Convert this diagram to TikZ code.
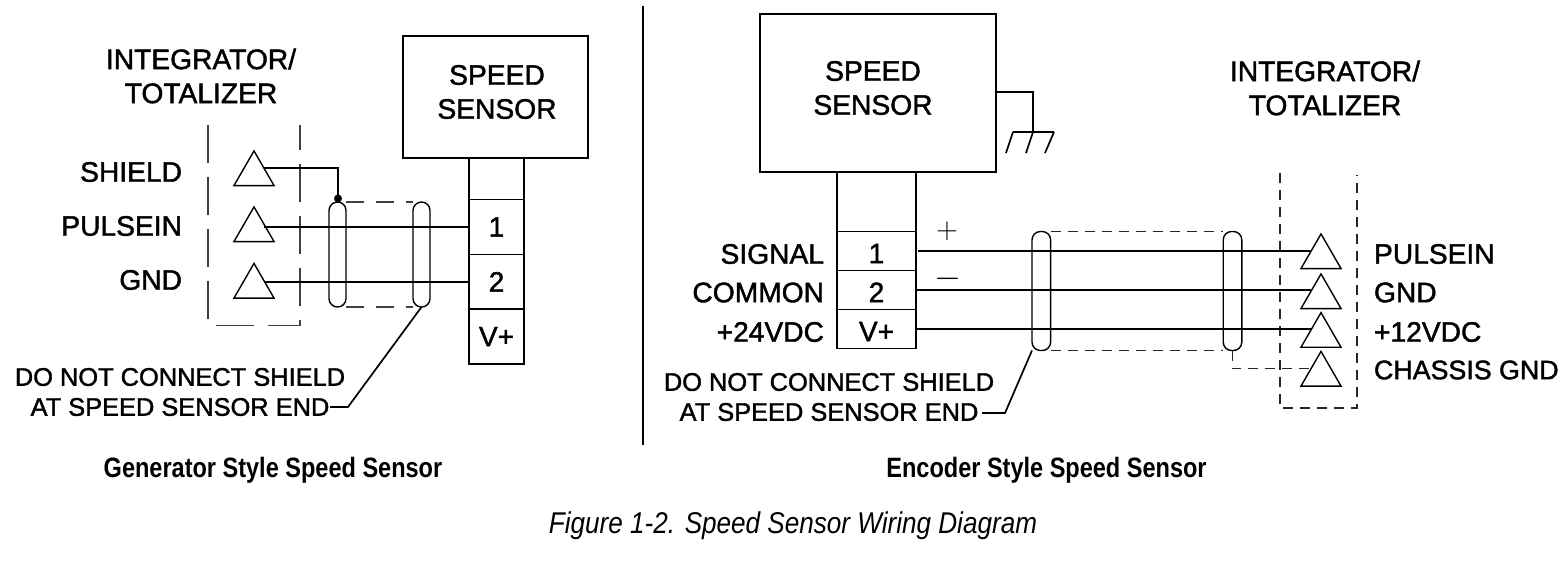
\documentclass[tikz,border=0pt]{standalone}
\usepackage{fontspec}
\setmainfont{Liberation Sans}[FakeBold=1.5]
\newfontfamily\headfont[FakeStretch=0.84]{Liberation Sans}
\newfontfamily\figfont[FakeStretch=0.87]{Liberation Sans}
\usetikzlibrary{shapes.geometric,positioning}

\begin{document}
\begin{tikzpicture}[
    x=0.5pt, y=-0.5pt,
    node distance=0pt,
    every node/.style={outer sep=0pt, inner sep=0pt},
    txt/.style={font=\fontsize{14.1}{17}\selectfont, align=center},
    note/.style={font=\fontsize{12.7}{15}\selectfont, align=center},
    box/.style={rectangle, draw, line width=0.8pt},
    cell/.style={box, font=\fontsize{14}{17}\selectfont},
    cellA/.style={cell, minimum width=27.5pt, minimum height=27.4pt},
    cellB/.style={cell, minimum width=39.5pt, minimum height=19.5pt, text height=12pt, text depth=0pt},
    sig/.style={regular polygon, regular polygon sides=3, draw, line width=0.7pt, minimum size=23.1pt},
    capsule/.style={rectangle, draw, line width=0.7pt, rounded corners=4.2pt},
    wire/.style={line width=0.85pt},
    dashA/.style={line width=0.7pt, black!75, dash pattern=on 19pt off 7pt},
    dashB/.style={line width=0.7pt, black!75, dash pattern=on 9pt off 6pt},
    dashC/.style={line width=0.7pt, black!85, dash pattern=on 5pt off 3.5pt},
    heading/.style={font=\headfont\bfseries\fontsize{14}{16}\selectfont}
]
    \useasboundingbox (0,0) rectangle (1568,563);

    % generator style
    \node[box, minimum width=92.5pt, minimum height=61pt] (blockA) at (495.5,97) {};
    \node[txt] (blockAtext) at (497,92) {SPEED\\SENSOR};
    \node[box, minimum width=27.5pt, minimum height=20.8pt, below=of blockA.south] (topA) at (496.5,158) {};
    \node[cellA, below=of topA] (oneA) {1};
    \node[cellA, below=of oneA] (twoA) {2};
    \node[cellA, below=of twoA] (vplusA) {V+};

    \node[txt] (intA) at (201,76) {INTEGRATOR/\\TOTALIZER};
    \node[sig] (shieldA) at (254,174) {};
    \node[sig] (pulseA) at (254,230) {};
    \node[sig] (gndA) at (254,286.5) {};
    \node[txt, anchor=east] (shieldAtext) at (182,172) {SHIELD};
    \node[txt, anchor=east] (pulseAtext) at (182,226) {PULSEIN};
    \node[txt, anchor=east] (gndAtext) at (182,280) {GND};
    \draw[dashA] (208,125) -- (208,325.5) -- (300,325.5) -- (300,125);

    \node[capsule, minimum width=8.5pt, minimum height=52.5pt] (capA) at (337.5,254.5) {};
    \node[capsule, minimum width=8.5pt, minimum height=52.5pt] (capB) at (421.5,254.5) {};
    \draw[dashB] (capA.north east) -- (capB.north west);
    \draw[dashB] (capA.south east) -- (capB.south west);
    \fill (338,198.5) circle (2pt) coordinate (dotA);

    \draw[wire] (shieldA.side 3) -| (dotA);
    \draw[wire] (pulseA.side 3 |- oneA.west) -- (oneA.west);
    \draw[wire] (gndA.side 3 |- twoA.west) -- (twoA.west);

    \node[note] (noteA) at (180,392) {DO NOT CONNECT SHIELD\\AT SPEED SENSOR END};
    \coordinate (noteAend) at (330,407);
    \coordinate (noteAbend) at (348,407);
    \draw[wire] (noteAend) -- (noteAbend) -- (capB.south);

    \node[heading] (headA) at (273,470) {Generator Style Speed Sensor};

    % divider
    \coordinate (divTop) at (643,6);
    \coordinate (divBot) at (643,445);
    \draw[line width=0.8pt] (divTop) -- (divBot);

    % encoder style
    \node[box, minimum width=118pt, minimum height=79pt] (blockB) at (878,93) {};
    \node[txt] (blockBtext) at (873,88) {SPEED\\SENSOR};
    \node[box, minimum width=39.5pt, minimum height=29.8pt, below=of blockB.south] (topB) at (876.5,172) {};
    \node[cellB, below=of topB] (oneB) {1};
    \node[cellB, below=of oneB] (twoB) {2};
    \node[cellB, below=of twoB] (vplusB) {V+};
    \node[txt, anchor=east] (signalB) at (824,254) {SIGNAL};
    \node[txt, anchor=east] (commonB) at (824,292.5) {COMMON};
    \node[txt, anchor=east] (supplyB) at (824,332) {+24VDC};

    % chassis ground
    \coordinate (gndTop) at (1033,132);
    \draw[wire] (blockB.east |- 0,92) -| (gndTop);
    \draw[wire] (1013,132) -- (1054,132);
    \draw[wire] (1013,132) -- (1006,153);
    \draw[wire] (gndTop) -- (1026,153);
    \draw[wire] (1054,132) -- (1045,153);

    \node[font=\fontsize{14.4}{15}\selectfont] (plusB) at (947,231) {$+$};
    \node[font=\fontsize{17.28}{18}\selectfont] (minusB) at (948,279) {$-$};

    \node[txt] (intB) at (1325,88) {INTEGRATOR/\\TOTALIZER};
    \node[sig] (pulseB) at (1321,257) {};
    \node[sig] (gndB) at (1321,297) {};
    \node[sig] (plusV) at (1321,335.7) {};
    \node[sig] (chassisB) at (1321,374.5) {};
    \node[txt, anchor=west] (pulseBtext) at (1374,254) {PULSEIN};
    \node[txt, anchor=west] (gndBtext) at (1374,292.5) {GND};
    \node[txt, anchor=west] (plusVtext) at (1374,332) {+12VDC};
    \node[font=\fontsize{13.4}{15}\selectfont, anchor=west] (chassisBtext) at (1374,370) {CHASSIS GND};
    \draw[dashC] (1280,173) -- (1280,408) -- (1357,408) -- (1357,175);

    \node[capsule, minimum width=9.3pt, minimum height=59.5pt] (capC) at (1041.3,291) {};
    \node[capsule, minimum width=9.3pt, minimum height=59.5pt] (capD) at (1232.5,291) {};
    \draw[dashC] (capC.north east) -- (capD.north west);
    \draw[dashC] (capC.south east) -- (capD.south west);

    \draw[wire, shorten <=1pt] (oneB.east) -- (pulseB.side 1 |- oneB.east);
    \draw[wire] (twoB.east) -- (gndB.side 1 |- twoB.east);
    \draw[wire] (vplusB.east) -- (plusV.side 1 |- vplusB.east);
    \draw[dashC] (capD.south) |- (chassisB.side 1);

    \node[note] (noteB) at (829,397) {DO NOT CONNECT SHIELD\\AT SPEED SENSOR END};
    \coordinate (noteBend) at (982,413);
    \coordinate (noteBbend) at (1005,413);
    \draw[wire] (noteBend) -- (noteBbend) -- (capC.south west);

    \node[heading] (headB) at (1046.5,470) {Encoder Style Speed Sensor};
    \node[font=\figfont\itshape\fontsize{15}{18}\selectfont] (figCap) at (793,526) {Figure 1-2. Speed Sensor Wiring Diagram};
\end{tikzpicture}
\end{document}
